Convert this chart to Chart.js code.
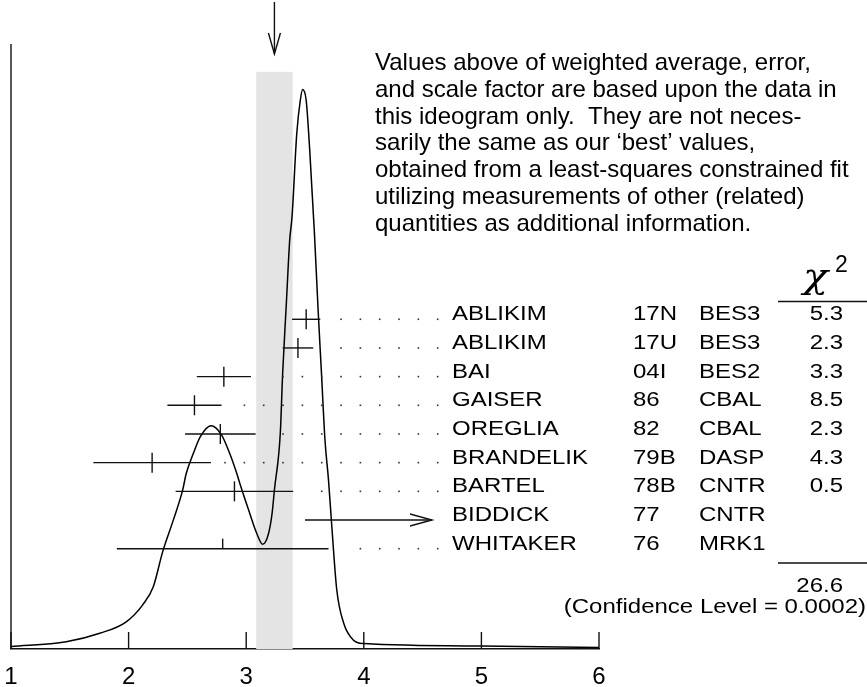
<!DOCTYPE html>
<html>
<head>
<meta charset="utf-8">
<script src="https://cdn.jsdelivr.net/npm/chart.js@4.4.1/dist/chart.umd.min.js"></script>
<style>
  html, body { margin: 0; padding: 0; background: #fff; }
  #wrap { width: 867px; height: 687px; }
</style>
</head>
<body>
<div id="wrap"><canvas id="ideogram"></canvas></div>
<script>
// measurements, top row first
const authors = ["ABLIKIM", "ABLIKIM", "BAI", "GAISER", "OREGLIA", "BRANDELIK", "BARTEL", "BIDDICK", "WHITAKER"];
const refs = ["17N", "17U", "04I", "86", "82", "79B", "78B", "77", "76"];
const experiments = ["BES3", "BES3", "BES2", "CBAL", "CBAL", "DASP", "CNTR", "CNTR", "MRK1"];
const values = [3.51, 3.44, 2.81, 2.56, 2.78, 2.20, 2.90, 3.50, 2.80];
const errors = [0.12, 0.13, 0.23, 0.23, 0.30, 0.50, 0.50, null, 0.90];
const chi2 = ["5.3", "2.3", "3.3", "8.5", "2.3", "4.3", "0.5", "", ""];
const chi2Total = "26.6";
const confidence = "(Confidence Level = 0.0002)";

const weightedAverage = 3.24;
const averageError = 0.155;

// ideogram curve
const curveX = [1.00, 1.47, 1.755, 1.98, 2.12, 2.21, 2.29, 2.38, 2.46, 2.49, 2.55, 2.61, 2.70, 2.79, 2.86, 2.92, 2.95, 3.02, 3.09, 3.14, 3.19, 3.22, 3.24, 3.29, 3.31, 3.34, 3.37, 3.39, 3.43, 3.46, 3.48, 3.51, 3.54, 3.58, 3.61, 3.64, 3.67, 3.70, 3.73, 3.77, 3.83, 3.91, 4.00, 5.00, 6.00];
const curveY = [0.4, 1.2, 2.6, 4.5, 7.3, 10.3, 16.1, 21.3, 26.3, 29.0, 32.3, 35.1, 36.9, 35.4, 32.3, 29.0, 27.1, 23.0, 19.1, 17.3, 19.1, 22.4, 26.3, 35.7, 45.6, 56.6, 67.6, 71.5, 85.2, 90.7, 92.5, 90.7, 82.5, 68.8, 56.6, 45.6, 34.5, 27.9, 19.7, 9.8, 4.2, 1.5, 0.9, 0.5, 0.25];

const tickValues = [1, 2, 3, 4, 5, 6];

const note = [
  "Values above of weighted average, error,",
  "and scale factor are based upon the data in",
  "this ideogram only.  They are not neces-",
  "sarily the same as our \u2018best\u2019 values,",
  "obtained from a least-squares constrained fit",
  "utilizing measurements of other (related)",
  "quantities as additional information.",
];

// layout
const rowTop = 54.5;
const rowStep = 4.74;
const bandTop = 95.4;
const nameX = 452, refX = 633, expX = 699, chiRight = 843;
const tableFont = "20px 'Liberation Sans', Arial, sans-serif";
const wide = 1.2;

function wideText(ctx, text, x, y, align, sx) {
  ctx.save();
  ctx.translate(x, y);
  ctx.scale(sx || wide, 1);
  ctx.textAlign = align || "left";
  ctx.fillText(text, 0, 0);
  ctx.restore();
}

function line(ctx, x1, y1, x2, y2) {
  ctx.beginPath();
  ctx.moveTo(x1, y1);
  ctx.lineTo(x2, y2);
  ctx.stroke();
}

const ideogramExtras = {
  id: "ideogramExtras",
  beforeDatasetsDraw(chart) {
    const { ctx, chartArea, scales: { x, y } } = chart;
    const l = x.getPixelForValue(weightedAverage - averageError);
    const r = x.getPixelForValue(weightedAverage + averageError);
    const t = y.getPixelForValue(bandTop);
    ctx.save();
    ctx.fillStyle = "#e4e4e4";
    ctx.fillRect(l, t, r - l, chartArea.bottom - t);
    ctx.restore();
  },
  afterDraw(chart) {
    const { ctx, chartArea, scales: { x, y } } = chart;
    ctx.save();
    ctx.strokeStyle = "#111";
    ctx.fillStyle = "#000";
    ctx.lineWidth = 1.4;

    // left frame line and inner ticks
    line(ctx, chartArea.left, chartArea.top, chartArea.left, chartArea.bottom);
    tickValues.forEach((v) => {
      const px = x.getPixelForValue(v);
      line(ctx, px, chartArea.bottom, px, chartArea.bottom - 17);
    });

    // arrow marking the weighted average
    const ax = x.getPixelForValue(weightedAverage);
    line(ctx, ax, 2, ax, chartArea.top + 10);
    ctx.beginPath();
    ctx.moveTo(ax - 6, chartArea.top - 11);
    ctx.lineTo(ax, chartArea.top + 10);
    ctx.lineTo(ax + 6, chartArea.top - 11);
    ctx.stroke();

    // measurements
    ctx.font = tableFont;
    ctx.textBaseline = "alphabetic";
    values.forEach((v, i) => {
      const py = y.getPixelForValue(rowTop - i * rowStep);
      const c = x.getPixelForValue(v);
      if (errors[i] === null) {
        const tip = nameX - 20;
        line(ctx, c, py, tip, py);
        ctx.beginPath();
        ctx.moveTo(tip - 22, py - 6);
        ctx.lineTo(tip, py);
        ctx.lineTo(tip - 22, py + 6);
        ctx.stroke();
      } else {
        const lo = x.getPixelForValue(v - errors[i]);
        const hi = x.getPixelForValue(v + errors[i]);
        line(ctx, lo, py, hi, py);
        const below = i === values.length - 1 ? 0 : 10;
        line(ctx, c, py - 10, c, py + below);
        ctx.save();
        ctx.fillStyle = "#333";
        for (let dx = nameX - 14.3; dx > hi + 13.5; dx -= 19.33) {
          ctx.fillRect(dx - 0.8, py - 0.8, 1.6, 1.6);
        }
        ctx.restore();
      }
      wideText(ctx, authors[i], nameX, py + 1);
      wideText(ctx, refs[i], refX, py + 1);
      wideText(ctx, experiments[i], expX, py + 1);
      if (chi2[i]) wideText(ctx, chi2[i], chiRight, py + 1, "right");
    });

    // chi-square header and totals
    ctx.font = "italic 36px 'DejaVu Serif', serif";
    wideText(ctx, "\u03c7", 803, 288, "left", 1.15);
    ctx.font = "23px 'Liberation Sans', Arial, sans-serif";
    ctx.textAlign = "left";
    ctx.fillText("2", 835, 272);
    line(ctx, 778, 301.5, 867, 301.5);
    line(ctx, 778, 563, 867, 563);
    ctx.font = tableFont;
    wideText(ctx, chi2Total, chiRight, 592, "right");
    wideText(ctx, confidence, 866, 613, "right");

    // explanatory note
    ctx.font = "24px 'Liberation Sans', Arial, sans-serif";
    ctx.textAlign = "left";
    note.forEach((s, k) => ctx.fillText(s, 375, 70 + k * 26.8));
    ctx.restore();
  },
};

new Chart(document.getElementById("ideogram").getContext("2d"), {
  type: "line",
  data: {
    datasets: [
      {
        data: curveX.map((v, i) => ({ x: v, y: curveY[i] })),
        borderColor: "#000",
        borderWidth: 1.5,
        pointRadius: 0,
        fill: false,
        cubicInterpolationMode: "monotone",
      },
    ],
  },
  options: {
    responsive: true,
    maintainAspectRatio: false,
    animation: false,
    layout: { padding: { left: 11, right: 268, top: 44, bottom: 0 } },
    plugins: { legend: { display: false }, tooltip: { enabled: false } },
    scales: {
      x: {
        type: "linear",
        min: 1,
        max: 6,
        grid: { drawOnChartArea: false, drawTicks: false },
        border: { display: true, color: "#111", width: 1.5 },
        ticks: {
          stepSize: 1,
          padding: 16,
          color: "#000",
          font: { family: "'Liberation Sans', Arial, sans-serif", size: 24, lineHeight: 1 },
        },
        afterFit(scale) {
          scale.height = 38;
          scale.paddingLeft = 0;
          scale.paddingRight = 0;
        },
      },
      y: { display: false, min: 0, max: 100 },
    },
  },
  plugins: [ideogramExtras],
});
</script>
</body>
</html>
